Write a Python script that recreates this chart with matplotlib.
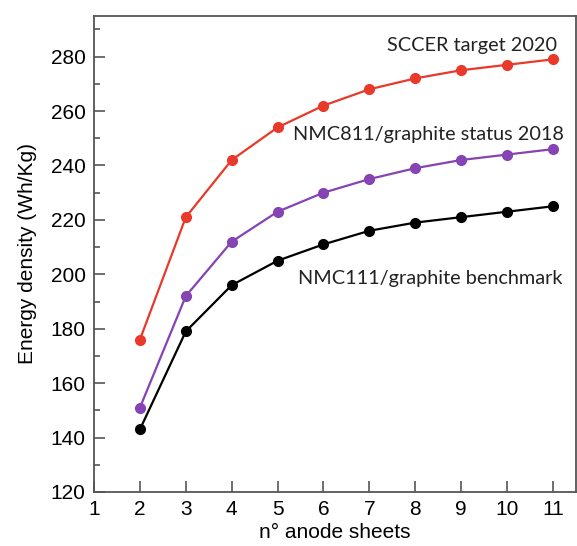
import matplotlib
matplotlib.use("Agg")
import matplotlib.pyplot as plt
from matplotlib.ticker import MultipleLocator

sheets = [2, 3, 4, 5, 6, 7, 8, 9, 10, 11]
sccer_2020 = [176, 221, 242, 254, 262, 268, 272, 275, 277, 279]
nmc811_2018 = [151, 192, 212, 223, 230, 235, 239, 242, 244, 246]
nmc111_bench = [143, 179, 196, 205, 211, 216, 219, 221, 223, 225]

labels = ["SCCER target 2020", "NMC811/graphite status 2018", "NMC111/graphite benchmark"]
colors = ["#e8392a", "#8543b4", "#000000"]

plt.rcParams['font.family'] = ['Liberation Sans', 'DejaVu Sans']

fig = plt.figure(figsize=(5.77, 5.46), dpi=100)
ax = fig.add_axes([0.163, 0.099, 0.835, 0.872])

for ys, c in zip([sccer_2020, nmc811_2018, nmc111_bench], colors):
    ax.plot(sheets, ys, '-o', color=c, lw=1.6, ms=7, zorder=3)

ax.set_xlim(1, 11.5)
ax.set_ylim(120, 295)
ax.set_xticks(range(1, 12))
ax.set_yticks(range(120, 281, 20))
ax.yaxis.set_minor_locator(MultipleLocator(10))
ax.tick_params(axis='both', which='major', direction='in', length=8, width=1.2,
               color='#555555', labelsize=15, pad=6)
ax.tick_params(axis='y', which='minor', direction='in', length=4, width=1.2, color='#555555')
ax.tick_params(top=False, right=False)
for s in ax.spines.values():
    s.set_color('#555555')
    s.set_linewidth(1.3)

ax.set_xlabel("n° anode sheets", fontsize=15, labelpad=3)
ax.set_ylabel("Energy density (Wh/Kg)", fontsize=15, labelpad=10)

tf = ['Lato', 'DejaVu Sans']
ax.text(11.1, 284.2, labels[0], ha='right', va='center', fontsize=14.3, family=tf, color='#222222')
ax.text(11.25, 251.3, labels[1], ha='right', va='center', fontsize=14.3, family=tf, color='#222222')
ax.text(11.2, 198.3, labels[2], ha='right', va='center', fontsize=14.3, family=tf, color='#222222')

fig.savefig("out.png", dpi=100)
